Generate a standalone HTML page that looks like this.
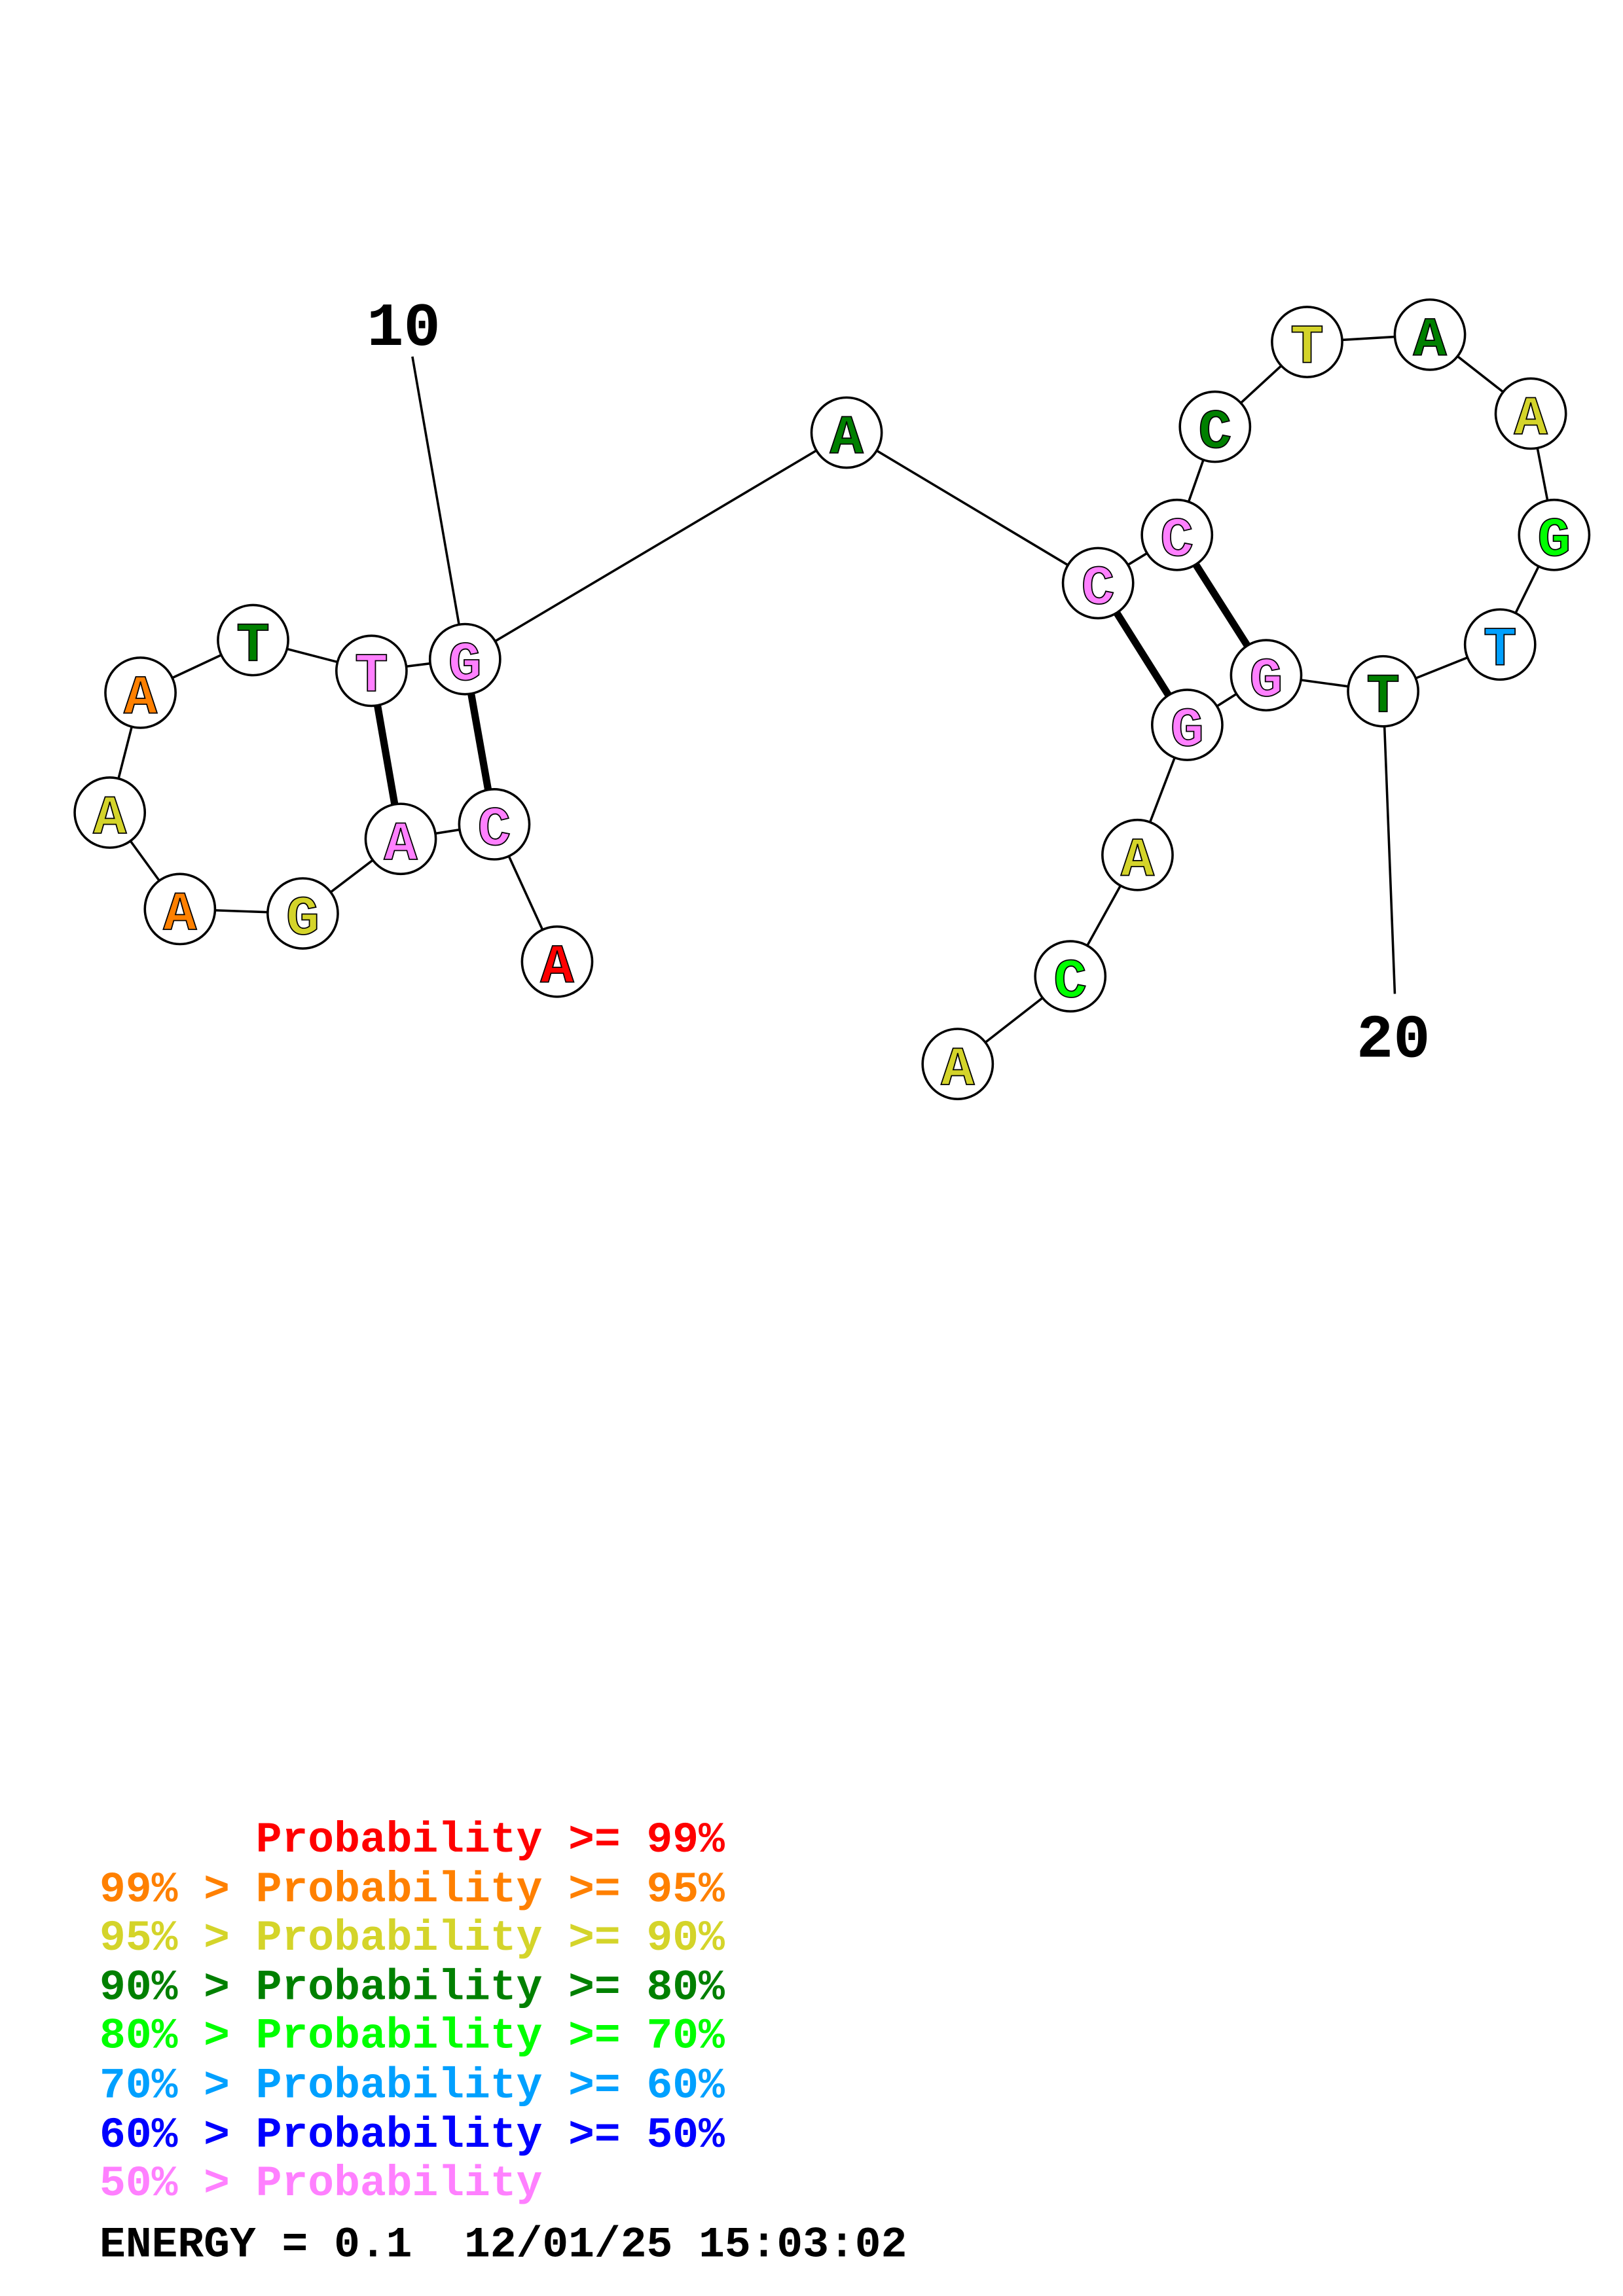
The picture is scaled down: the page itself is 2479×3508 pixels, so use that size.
<!DOCTYPE html>
<html><head><meta charset="utf-8"><style>
html,body{margin:0;padding:0;background:#fff;}
svg{display:block;}
.pre{white-space:pre;}
</style></head><body>
<svg width="2479" height="3508" viewBox="0 0 1110 1571" xmlns="http://www.w3.org/2000/svg">
<rect width="1110" height="1571" fill="#fff"/>
<g stroke="#000" stroke-width="1.6" fill="none">
<polyline points="381,658 338,564 274,574 207,625 123,622 75,556 96,474 173,438 254,459 318,451 579,296 751,399 805,366 831,292 894,234 978,229 1047,283 1063,366 1026,441 946,473 866,462 812,496 778,585 732,668 655,728"/>
<line x1="282" y1="244" x2="318" y2="451"/>
<line x1="946" y1="473" x2="954" y2="680"/>
</g>
<g stroke="#000" stroke-width="5">
<line x1="254" y1="459" x2="274" y2="574"/>
<line x1="318" y1="451" x2="338" y2="564"/>
<line x1="751" y1="399" x2="812" y2="496"/>
<line x1="805" y1="366" x2="866" y2="462"/>
</g>
<g stroke="#000" stroke-width="1.6" fill="#fff">
<circle cx="96" cy="474" r="24"/><circle cx="173" cy="438" r="24"/><circle cx="254" cy="459" r="24"/><circle cx="318" cy="451" r="24"/>
<circle cx="579" cy="296" r="24"/><circle cx="751" cy="399" r="24"/><circle cx="805" cy="366" r="24"/><circle cx="831" cy="292" r="24"/>
<circle cx="894" cy="234" r="24"/><circle cx="978" cy="229" r="24"/><circle cx="1047" cy="283" r="24"/><circle cx="1063" cy="366" r="24"/>
<circle cx="1026" cy="441" r="24"/><circle cx="946" cy="473" r="24"/><circle cx="866" cy="462" r="24"/><circle cx="812" cy="496" r="24"/>
<circle cx="778" cy="585" r="24"/><circle cx="732" cy="668" r="24"/><circle cx="655" cy="728" r="24"/>
<circle cx="75" cy="556" r="24"/><circle cx="123" cy="622" r="24"/><circle cx="207" cy="625" r="24"/><circle cx="274" cy="574" r="24"/>
<circle cx="338" cy="564" r="24"/><circle cx="381" cy="658" r="24"/>
</g>
<g font-family="'Liberation Mono',monospace" font-weight="bold" font-size="38" text-anchor="middle" stroke="#000" stroke-width="0.8">
<text x="96" y="488" fill="#ff8000">A</text>
<text x="173" y="452" fill="#008000">T</text>
<text x="254" y="473" fill="#ff80ff">T</text>
<text x="318" y="465" fill="#ff80ff">G</text>
<text x="579" y="310" fill="#008000">A</text>
<text x="751" y="413" fill="#ff80ff">C</text>
<text x="805" y="380" fill="#ff80ff">C</text>
<text x="831" y="306" fill="#008000">C</text>
<text x="894" y="248" fill="#d4d42a">T</text>
<text x="978" y="243" fill="#008000">A</text>
<text x="1047" y="297" fill="#d4d42a">A</text>
<text x="1063" y="380" fill="#00ff00">G</text>
<text x="1026" y="455" fill="#00a0ff">T</text>
<text x="946" y="487" fill="#008000">T</text>
<text x="866" y="476" fill="#ff80ff">G</text>
<text x="812" y="510" fill="#ff80ff">G</text>
<text x="778" y="599" fill="#d4d42a">A</text>
<text x="732" y="682" fill="#00ff00">C</text>
<text x="655" y="742" fill="#d4d42a">A</text>
<text x="75" y="570" fill="#d4d42a">A</text>
<text x="123" y="636" fill="#ff8000">A</text>
<text x="207" y="639" fill="#d4d42a">G</text>
<text x="274" y="588" fill="#ff80ff">A</text>
<text x="338" y="578" fill="#ff80ff">C</text>
<text x="381" y="672" fill="#ff0000">A</text>
</g>
<g font-family="'Liberation Mono',monospace" font-weight="bold" font-size="42" text-anchor="middle" fill="#000">
<text x="276" y="236">10</text>
<text x="953" y="723">20</text>
</g>
<g font-family="'Liberation Mono',monospace" font-weight="bold" font-size="29.7" class="pre">
<text x="68" y="1267" fill="#ff0000" class="pre">      Probability &gt;= 99%</text>
<text x="68" y="1301" fill="#ff8000">99% &gt; Probability &gt;= 95%</text>
<text x="68" y="1334" fill="#d4d42a">95% &gt; Probability &gt;= 90%</text>
<text x="68" y="1368" fill="#008000">90% &gt; Probability &gt;= 80%</text>
<text x="68" y="1401" fill="#00ff00">80% &gt; Probability &gt;= 70%</text>
<text x="68" y="1435" fill="#00a0ff">70% &gt; Probability &gt;= 60%</text>
<text x="68" y="1469" fill="#0000ff">60% &gt; Probability &gt;= 50%</text>
<text x="68" y="1502" fill="#ff80ff">50% &gt; Probability</text>
<text x="68" y="1544" fill="#000" class="pre">ENERGY = 0.1  12/01/25 15:03:02</text>
</g>
</svg>
</body></html>
